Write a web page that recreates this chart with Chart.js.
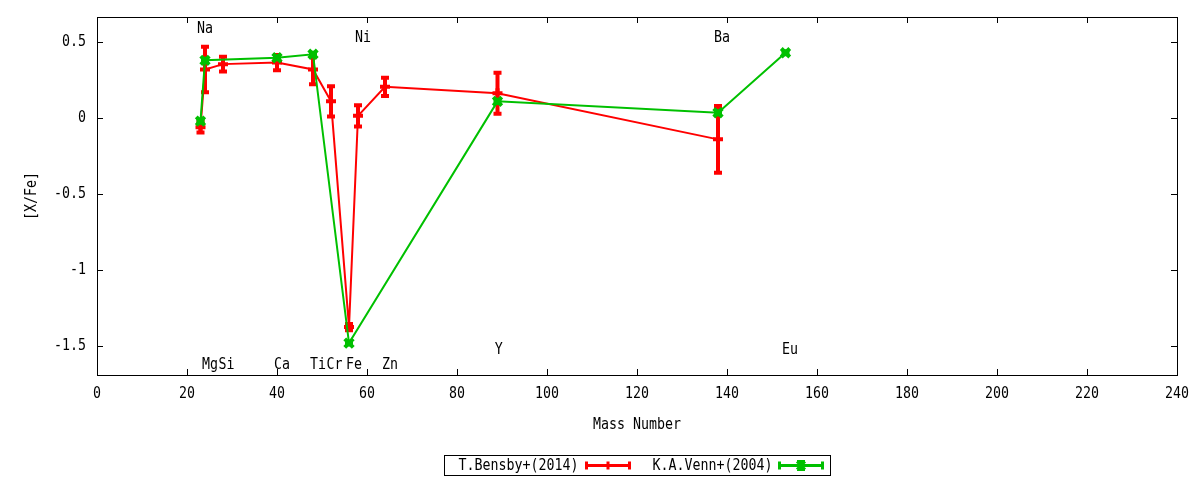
<!DOCTYPE html>
<html>
<head>
<meta charset="utf-8">
<script src="https://cdn.jsdelivr.net/npm/chart.js@4.4.1/dist/chart.umd.min.js"></script>
<style>
  html, body { margin: 0; background: #fff; }
  #wrap { width: 1200px; height: 480px; }
</style>
</head>
<body>
<div id="wrap"><canvas id="chart"></canvas></div>
<script>
// abundance ratios vs mass number
const bensbyMass = [23, 24, 28, 40, 48, 52, 56, 58, 64, 89, 138]
const bensbyXFe  = [-0.06, 0.32, 0.355, 0.365, 0.32, 0.11, -1.375, 0.015, 0.206, 0.164, -0.14]
const bensbyErr  = [0.035, 0.15, 0.048, 0.05, 0.097, 0.1, 0.02, 0.07, 0.06, 0.135, 0.22]

const vennMass = [23, 24, 40, 48, 56, 89, 138, 153]
const vennXFe  = [-0.02, 0.38, 0.397, 0.42, -1.48, 0.11, 0.035, 0.43]
const vennErr  = [0.01, 0.01, 0.01, 0.01, 0.01, 0.01, 0.01, 0.01]

const xTicks = [0, 20, 40, 60, 80, 100, 120, 140, 160, 180, 200, 220, 240]
const yTicks = [-1.5, -1, -0.5, 0, 0.5]

// element labels placed in data coordinates
const elemText = ['Na', 'Mg', 'Si', 'Ca', 'Ti', 'Cr', 'Fe', 'Ni', 'Zn', 'Y', 'Ba', 'Eu']
const elemX    = [24, 25.1, 28.8, 41.1, 49.1, 52.8, 57.1, 59.1, 65.1, 89.3, 138.9, 154]
const elemY    = [0.59, -1.62, -1.62, -1.62, -1.62, -1.62, -1.62, 0.525, -1.62, -1.525, 0.525, -1.525]

const FONT = "16px 'DejaVu Sans Mono', monospace"
const RED = '#ff0000'
const GREEN = '#00c000'

// gnuplot-like narrow mono text
function txt(c, s, x, y, align, rot) {
  c.save()
  c.translate(x, y)
  if (rot) c.rotate(-Math.PI / 2)
  c.scale(0.83, 1)
  c.font = FONT
  c.fillStyle = '#000'
  c.textAlign = align
  c.textBaseline = 'middle'
  c.fillText(s, 0, 0)
  c.restore()
}

const errorBars = {
  id: 'errorBars',
  beforeDatasetDraw(chart, args) {
    const ds = chart.data.datasets[args.index]
    if (!ds.err) return
    const c = chart.ctx
    const y = chart.scales.y
    c.save()
    c.strokeStyle = ds.borderColor
    c.lineWidth = 4
    args.meta.data.forEach((el, i) => {
      const v = ds.data[i].y, e = ds.err[i]
      const top = y.getPixelForValue(v + e), bot = y.getPixelForValue(v - e)
      c.beginPath()
      c.moveTo(el.x, top); c.lineTo(el.x, bot)
      c.moveTo(el.x - 4, top); c.lineTo(el.x + 4, top)
      c.moveTo(el.x - 4, bot); c.lineTo(el.x + 4, bot)
      c.stroke()
    })
    c.restore()
  }
}

const frame = {
  id: 'frame',
  afterDraw(chart) {
    const c = chart.ctx
    const { left, right, top, bottom } = chart.chartArea
    const xs = chart.scales.x, ys = chart.scales.y
    c.save()
    c.strokeStyle = '#000'
    c.lineWidth = 1
    c.strokeRect(left + 0.5, top + 0.5, right - left, bottom - top)
    c.beginPath()
    xs.ticks.forEach(t => {
      const px = Math.round(xs.getPixelForValue(t.value)) + 0.5
      c.moveTo(px, bottom); c.lineTo(px, bottom - 6)
      c.moveTo(px, top); c.lineTo(px, top + 6)
    })
    ys.ticks.forEach(t => {
      const py = Math.round(ys.getPixelForValue(t.value)) + 0.5
      c.moveTo(left, py); c.lineTo(left + 6, py)
      c.moveTo(right, py); c.lineTo(right - 6, py)
    })
    c.stroke()

    // tick labels and axis titles
    xs.ticks.forEach(t => txt(c, String(t.value), xs.getPixelForValue(t.value), bottom + 19, 'center'))
    ys.ticks.forEach(t => txt(c, String(t.value), left - 11, ys.getPixelForValue(t.value), 'right'))
    txt(c, 'Mass Number', (left + right) / 2, bottom + 50, 'center')
    txt(c, '[X/Fe]', 32, (top + bottom) / 2, 'center', true)

    // element names
    elemText.forEach((s, i) => {
      txt(c, s, xs.getPixelForValue(elemX[i]), ys.getPixelForValue(elemY[i]), 'center')
    })

    // boxed legend below the axis title
    const cx = (left + right) / 2
    const bx = Math.round(cx - 193) + 0.5, by = 455.5
    c.strokeRect(bx, by, 386, 20)
    const entries = [[134, 142], [328, 335]]
    chart.data.datasets.forEach((ds, i) => {
      const [tx, sx] = entries[i]
      const yy = by + 10
      txt(c, ds.label, bx + tx, yy, 'right')
      c.strokeStyle = ds.borderColor
      c.lineWidth = 3
      c.beginPath()
      c.moveTo(bx + sx, yy); c.lineTo(bx + sx + 43, yy)
      c.moveTo(bx + sx, yy - 4); c.lineTo(bx + sx, yy + 4)
      c.moveTo(bx + sx + 43, yy - 4); c.lineTo(bx + sx + 43, yy + 4)
      const mx = bx + sx + 21.5
      if (ds.pointStyle === 'crossRot') {
        c.moveTo(mx - 4, yy - 4); c.lineTo(mx + 4, yy + 4)
        c.moveTo(mx - 4, yy + 4); c.lineTo(mx + 4, yy - 4)
        c.moveTo(mx - 4, yy - 4); c.lineTo(mx + 4, yy - 4)
        c.moveTo(mx - 4, yy + 4); c.lineTo(mx + 4, yy + 4)
      } else {
        c.moveTo(mx, yy - 4); c.lineTo(mx, yy + 4)
      }
      c.stroke()
    })
    c.restore()
  }
}

new Chart(document.getElementById('chart'), {
  type: 'line',
  data: {
    datasets: [
      {
        label: 'T.Bensby+(2014)',
        data: bensbyMass.map((m, i) => ({ x: m, y: bensbyXFe[i] })),
        err: bensbyErr,
        borderColor: RED,
        backgroundColor: RED,
        borderWidth: 2,
        pointStyle: 'cross',
        pointRadius: 5,
        pointBorderWidth: 4,
        tension: 0,
        order: 1
      },
      {
        label: 'K.A.Venn+(2004)',
        data: vennMass.map((m, i) => ({ x: m, y: vennXFe[i] })),
        err: vennErr,
        borderColor: GREEN,
        backgroundColor: GREEN,
        borderWidth: 2,
        pointStyle: 'crossRot',
        pointRadius: 6,
        pointBorderWidth: 4,
        tension: 0,
        order: 0
      }
    ]
  },
  options: {
    responsive: true,
    maintainAspectRatio: false,
    animation: false,
    layout: { padding: { top: 17, right: 23, bottom: 40, left: 0 } },
    plugins: { legend: { display: false }, tooltip: { enabled: false } },
    scales: {
      x: {
        type: 'linear',
        min: 0,
        max: 240,
        afterBuildTicks: s => { s.ticks = xTicks.map(v => ({ value: v })) },
        afterFit: s => { s.height = 65 },
        grid: { display: false, drawTicks: false },
        border: { display: false },
        ticks: { display: false }
      },
      y: {
        type: 'linear',
        min: -1.69,
        max: 0.665,
        afterBuildTicks: s => { s.ticks = yTicks.map(v => ({ value: v })) },
        afterFit: s => { s.width = 97 },
        grid: { display: false, drawTicks: false },
        border: { display: false },
        ticks: { display: false }
      }
    }
  },
  plugins: [errorBars, frame]
})
</script>
</body>
</html>
